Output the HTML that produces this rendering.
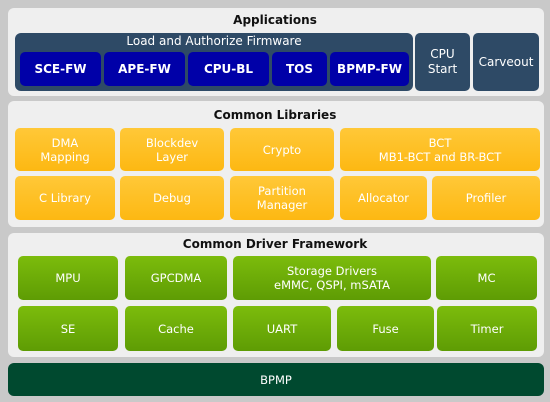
<!DOCTYPE html>
<html><head><style>
body{margin:0;width:550px;height:402px;background:#c9c9c9;font-family:"DejaVu Sans","Liberation Sans",sans-serif;position:relative;overflow:hidden}
div{position:absolute;box-sizing:border-box}
.p{background:#efefef;border-radius:6px}
.t{font-size:12px;font-weight:bold;color:#111;text-align:center;left:0;right:0}
.b{display:flex;align-items:center;justify-content:center;text-align:center;color:#fff;font-size:11.5px;line-height:14px;border-radius:5px}
.bl{background:#0000a8;font-weight:bold;font-size:12px}
.sl{background:#2e4a66}
.y{background:linear-gradient(#ffc838,#fdb812)}
.g{background:linear-gradient(#7cbc0c,#5e9c04)}
</style></head><body>
<div class="p" style="left:8px;top:8px;width:536px;height:88px"></div>
<div class="t" style="top:13px">Applications</div>
<div class="sl" style="left:15px;top:33px;width:398px;height:58px;border-radius:6px"></div>
<div style="left:15px;top:34px;width:398px;text-align:center;color:#fff;font-size:12px">Load and Authorize Firmware</div>
<div class="b bl" style="left:20px;top:52px;width:81px;height:34px">SCE-FW</div>
<div class="b bl" style="left:104px;top:52px;width:81px;height:34px">APE-FW</div>
<div class="b bl" style="left:188px;top:52px;width:81px;height:34px">CPU-BL</div>
<div class="b bl" style="left:272px;top:52px;width:55px;height:34px">TOS</div>
<div class="b bl" style="left:330px;top:52px;width:79px;height:34px">BPMP-FW</div>
<div class="b sl" style="left:415px;top:33px;width:55px;height:58px;font-size:12px;line-height:15px">CPU<br>Start</div>
<div class="b sl" style="left:473px;top:33px;width:66px;height:58px;font-size:12px">Carveout</div>

<div class="p" style="left:8px;top:101px;width:536px;height:126px"></div>
<div class="t" style="top:108px">Common Libraries</div>
<div class="b y" style="left:15px;top:128px;width:100px;height:43px">DMA<br>Mapping</div>
<div class="b y" style="left:120px;top:128px;width:104px;height:43px">Blockdev<br>Layer</div>
<div class="b y" style="left:230px;top:128px;width:104px;height:43px">Crypto</div>
<div class="b y" style="left:340px;top:128px;width:200px;height:43px">BCT<br>MB1-BCT and BR-BCT</div>
<div class="b y" style="left:15px;top:176px;width:100px;height:44px">C Library</div>
<div class="b y" style="left:120px;top:176px;width:104px;height:44px">Debug</div>
<div class="b y" style="left:230px;top:176px;width:104px;height:44px">Partition<br>Manager</div>
<div class="b y" style="left:340px;top:176px;width:87px;height:44px">Allocator</div>
<div class="b y" style="left:432px;top:176px;width:108px;height:44px">Profiler</div>

<div class="p" style="left:8px;top:233px;width:536px;height:124px"></div>
<div class="t" style="top:237px">Common Driver Framework</div>
<div class="b g" style="left:18px;top:256px;width:100px;height:44px">MPU</div>
<div class="b g" style="left:125px;top:256px;width:102px;height:44px">GPCDMA</div>
<div class="b g" style="left:233px;top:256px;width:198px;height:44px">Storage Drivers<br>eMMC, QSPI, mSATA</div>
<div class="b g" style="left:436px;top:256px;width:101px;height:44px">MC</div>
<div class="b g" style="left:18px;top:306px;width:100px;height:45px">SE</div>
<div class="b g" style="left:125px;top:306px;width:102px;height:45px">Cache</div>
<div class="b g" style="left:233px;top:306px;width:98px;height:45px">UART</div>
<div class="b g" style="left:337px;top:306px;width:97px;height:45px">Fuse</div>
<div class="b g" style="left:437px;top:306px;width:100px;height:45px">Timer</div>

<div class="b" style="left:8px;top:363px;width:536px;height:33px;background:#00492f;border-radius:6px">BPMP</div>
</body></html>
